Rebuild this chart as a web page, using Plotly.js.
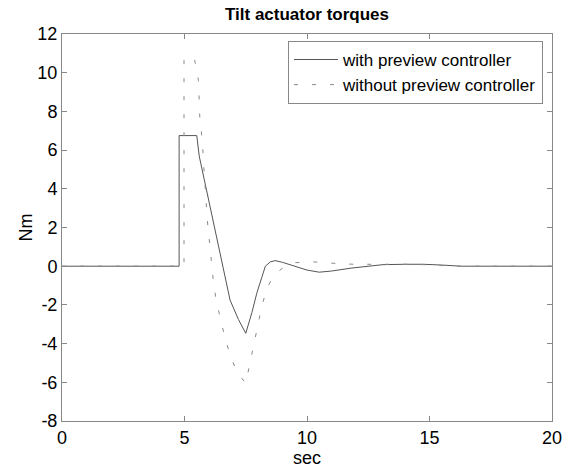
<!DOCTYPE html>
<html>
<head>
<meta charset="utf-8">
<script src="https://cdn.plot.ly/plotly-3.0.1.min.js"></script>
<style>html,body{margin:0;padding:0;background:#fff;}#chart{width:572px;height:468px;}</style>
</head>
<body>
<div id="chart"></div>
<script>
// with preview controller (solid)
const withX = [0, 4.78, 4.78, 5.5, 5.6, 6.0, 6.4, 6.86, 7.2, 7.5, 7.75, 7.95, 8.15, 8.3, 8.5, 8.7, 9.0, 9.5, 10.0, 10.5, 11.0, 11.8, 12.5, 13.1, 14.0, 14.75, 15.5, 16.1, 16.3, 20];
const withY = [0, 0, 6.75, 6.75, 5.7, 3.3, 0.85, -1.75, -2.75, -3.47, -2.4, -1.4, -0.6, 0.0, 0.22, 0.29, 0.2, 0.0, -0.2, -0.31, -0.25, -0.1, 0.0, 0.08, 0.1, 0.1, 0.06, 0.03, 0, 0];
// without preview controller (dashed)
const withoutX = [0, 4.98, 4.98, 5.4, 5.57, 5.63, 5.73, 5.77, 5.93, 6.08, 6.18, 6.29, 6.45, 6.65, 6.89, 7.16, 7.5, 7.67, 7.84, 7.99, 8.15, 8.36, 8.55, 8.8, 9.1, 9.5, 10.2, 11.1, 11.9, 13.0, 14.4, 15.2, 16.0, 20];
const withoutY = [0, 0, 10.75, 10.75, 9.6, 7.5, 6.5, 5.5, 2.4, 0.3, -0.8, -1.75, -2.7, -3.7, -4.7, -5.5, -6.05, -5.0, -4.05, -3.05, -2.1, -1.15, -0.7, -0.3, 0.0, 0.18, 0.23, 0.15, 0.1, 0.1, 0.1, 0.05, 0, 0];
const seriesNames = ['with preview controller', 'without preview controller'];
const xTicks = [0, 5, 10, 15, 20];
const xTickText = ['0', '5', '10', '15', '20'];
const yTicks = [-8, -6, -4, -2, 0, 2, 4, 6, 8, 10, 12];
const yTickText = ['-8', '-6', '-4', '-2', '0', '2', '4', '6', '8', '10', '12'];

const font = 'Liberation Sans, Arial, sans-serif';
const traces = [
  {x: withX, y: withY, name: seriesNames[0], mode: 'lines', line: {color: '#555', width: 1}},
  {x: withoutX, y: withoutY, name: seriesNames[1], mode: 'lines', line: {color: '#888', width: 1, dash: '4px,14px'}}
];
const axisCommon = {showline: true, mirror: 'ticks', linecolor: '#888', linewidth: 1, ticks: 'inside', ticklen: 5, tickcolor: '#888', showgrid: false, zeroline: false, tickfont: {family: font, size: 18, color: '#000'}};
const layout = {
  width: 572, height: 468,
  margin: {l: 62, r: 20, t: 34, b: 47},
  paper_bgcolor: '#fff', plot_bgcolor: '#fff',
  font: {family: font, color: '#000'},
  title: {text: '<b>Tilt actuator torques</b>', font: {family: font, size: 17, color: '#000'}, x: 0.5367, xanchor: 'center', y: 0.97, yanchor: 'middle'},
  xaxis: Object.assign({}, axisCommon, {range: [0, 20], tickvals: xTicks, ticktext: xTickText, title: {text: 'sec', font: {family: font, size: 18}, standoff: 4}}),
  yaxis: Object.assign({}, axisCommon, {range: [-8, 12], tickvals: yTicks, ticktext: yTickText, title: {text: 'Nm', font: {family: font, size: 18}, standoff: 0}}),
  legend: {x: 0.9816, xanchor: 'right', y: 0.982, yanchor: 'top', bgcolor: '#fff', bordercolor: '#888', borderwidth: 1, font: {family: font, size: 17, color: '#000'}, itemwidth: 44, tracegroupgap: 0},
  showlegend: true
};
Plotly.newPlot('chart', traces, layout, {displayModeBar: false, staticPlot: true});
</script>
</body>
</html>
